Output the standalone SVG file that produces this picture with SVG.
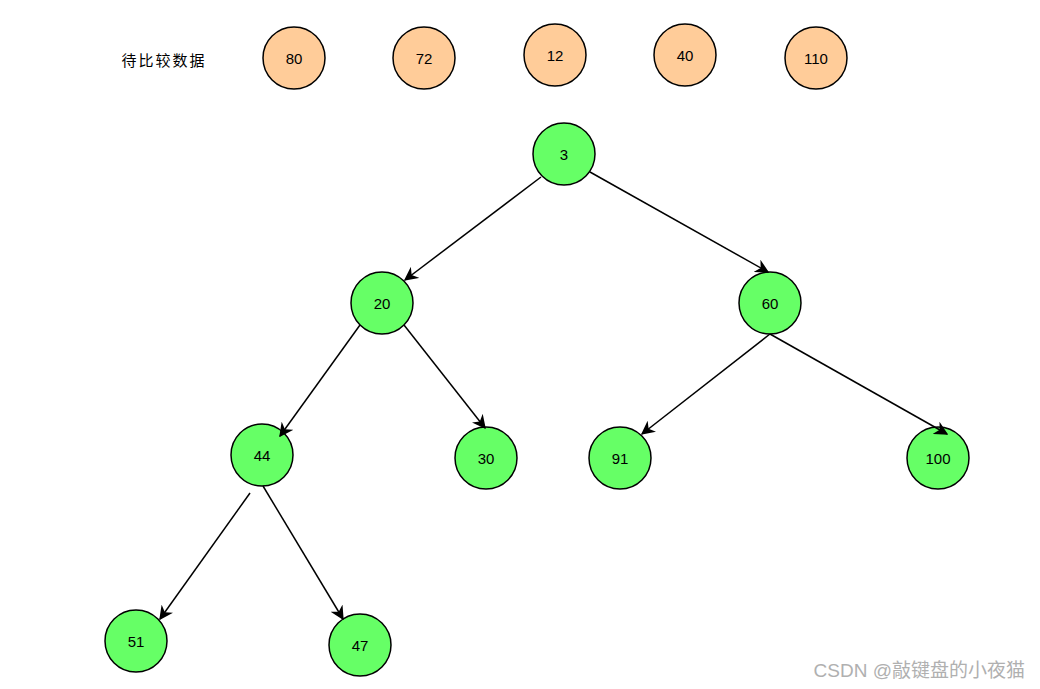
<svg xmlns="http://www.w3.org/2000/svg" width="1040" height="689" viewBox="0 0 1040 689">
<style>
.n circle{stroke:#000;stroke-width:1.5}
.o circle{fill:#ffcc99}
.g circle{fill:#66ff66}
.n text{font-family:"Liberation Sans","DejaVu Sans",sans-serif;font-size:15px;text-anchor:middle;dominant-baseline:central;fill:#000}
.e line{stroke:#000;stroke-width:1.5;marker-end:url(#ah)}
</style>
<defs>
<marker id="ah" viewBox="0 0 10 10" refX="9" refY="5" markerWidth="14" markerHeight="14" markerUnits="userSpaceOnUse" orient="auto">
<path d="M0,0 L10,5 L0,10 L3,5 z" fill="#000"/>
</marker>
</defs>
<rect width="1040" height="689" fill="#fff"/>
<text x="164" y="59" font-family="'Noto Sans CJK SC',sans-serif" font-size="15" text-anchor="middle" dominant-baseline="central" letter-spacing="2">待比较数据</text>
<g id="n80" class="n o"><circle cx="294" cy="58" r="31"/><text x="294" y="58">80</text></g>
<g id="n72" class="n o"><circle cx="424" cy="58" r="31"/><text x="424" y="58">72</text></g>
<g id="n12" class="n o"><circle cx="555" cy="55" r="31"/><text x="555" y="55">12</text></g>
<g id="n40" class="n o"><circle cx="685" cy="55" r="31"/><text x="685" y="55">40</text></g>
<g id="n110" class="n o"><circle cx="816" cy="58" r="31"/><text x="816" y="58">110</text></g>
<g id="n3" class="n g"><circle cx="564" cy="154" r="31"/><text x="564" y="154">3</text></g>
<g id="n20" class="n g"><circle cx="382" cy="303" r="31"/><text x="382" y="303">20</text></g>
<g id="n60" class="n g"><circle cx="770" cy="303" r="31"/><text x="770" y="303">60</text></g>
<g id="n44" class="n g"><circle cx="262" cy="455" r="31"/><text x="262" y="455">44</text></g>
<g id="n30" class="n g"><circle cx="486" cy="458" r="31"/><text x="486" y="458">30</text></g>
<g id="n91" class="n g"><circle cx="620" cy="458" r="31"/><text x="620" y="458">91</text></g>
<g id="n100" class="n g"><circle cx="938" cy="458" r="31"/><text x="938" y="458">100</text></g>
<g id="n51" class="n g"><circle cx="136" cy="641" r="31"/><text x="136" y="641">51</text></g>
<g id="n47" class="n g"><circle cx="360" cy="645" r="31"/><text x="360" y="645">47</text></g>
<g id="e" class="e">
<line x1="541" y1="177" x2="405" y2="280"/>
<line x1="590" y1="172" x2="768" y2="272"/>
<line x1="360" y1="325" x2="280" y2="436"/>
<line x1="404" y1="325" x2="485" y2="428"/>
<line x1="770" y1="334" x2="642" y2="434"/>
<line x1="770" y1="334" x2="947" y2="434"/>
<line x1="250" y1="493" x2="160" y2="619"/>
<line x1="263" y1="486" x2="343" y2="619"/>
</g>
<text x="1025" y="670" font-family="'Liberation Sans','Noto Sans CJK SC',sans-serif" font-size="19" fill="#b0b0b0" text-anchor="end" dominant-baseline="central">CSDN @敲键盘的小夜猫</text>
</svg>
